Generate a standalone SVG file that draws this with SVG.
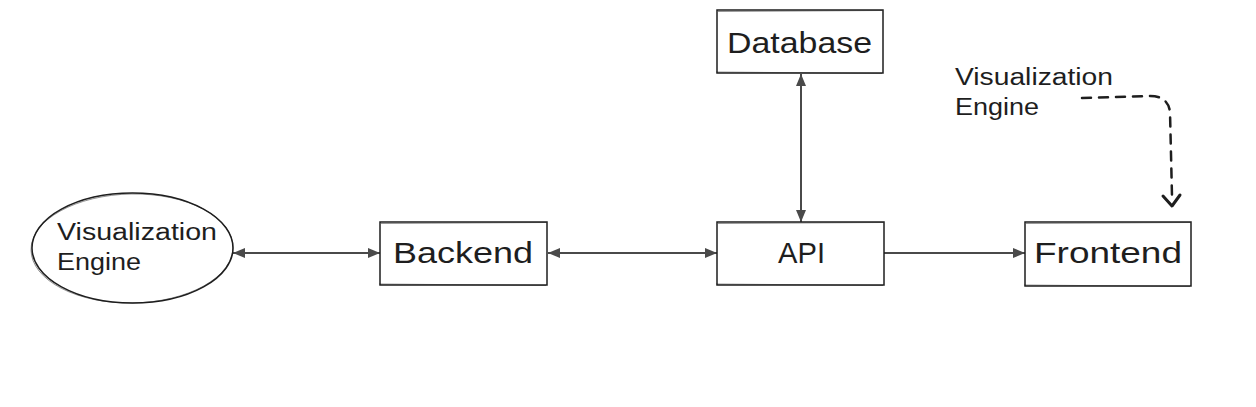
<svg xmlns="http://www.w3.org/2000/svg" width="1256" height="407" viewBox="0 0 1256 407">
<defs>
<style>
.box{fill:#ffffff;stroke:#1e1e1e;stroke-width:1.5}
.sk{fill:none;stroke:#1e1e1e;stroke-width:0.8;opacity:0.6}
.lbl{font-family:"Liberation Sans","DejaVu Sans",sans-serif;font-size:30px;fill:#1e1e1e}
.sm{font-family:"Liberation Sans","DejaVu Sans",sans-serif;font-size:23px;fill:#1e1e1e}
.con{fill:none;stroke:#4a4a4a;stroke-width:2}
.dash{fill:none;stroke:#1e1e1e;stroke-width:2.5;stroke-dasharray:9 8;stroke-linecap:round}
</style>
<marker id="ah" viewBox="0 0 12 10" refX="12" refY="5" markerWidth="12" markerHeight="10" markerUnits="userSpaceOnUse" orient="auto-start-reverse">
<path d="M0,0 L12,5 L0,10 Z" fill="#4a4a4a"/>
</marker>
</defs>
<rect width="1256" height="407" fill="#ffffff"/>
<g id="connectors">
<line class="con" x1="233" y1="253" x2="380" y2="253" marker-start="url(#ah)" marker-end="url(#ah)"/>
<line class="con" x1="548" y1="253" x2="717" y2="253" marker-start="url(#ah)" marker-end="url(#ah)"/>
<line class="con" x1="884" y1="253" x2="1025" y2="253" marker-end="url(#ah)"/>
<line class="con" x1="801" y1="74" x2="801" y2="222" marker-start="url(#ah)" marker-end="url(#ah)"/>
<path class="dash" d="M1082,98 L1150,96 Q1168,96 1170,112 L1172,196"/>
<path d="M1163,196 L1172,206 L1180,195" fill="none" stroke="#1e1e1e" stroke-width="3" stroke-linecap="round" stroke-linejoin="round"/>
</g>
<g id="viz-engine-ellipse">
<ellipse class="box" cx="132.5" cy="248" rx="100.5" ry="55"/>
<ellipse class="sk" cx="132" cy="248.5" rx="101" ry="54.5" transform="rotate(-1 132 248)"/>
<text class="sm" x="57" y="240" textLength="160" lengthAdjust="spacingAndGlyphs">Visualization</text>
<text class="sm" x="57" y="270" textLength="84" lengthAdjust="spacingAndGlyphs">Engine</text>
</g>
<g id="backend">
<rect class="box" x="380" y="222" width="167" height="63"/>
<path class="sk" d="M381,223.5 L546,222.5 M379,284 L546,285.5"/>
<text class="lbl" x="393" y="263" textLength="140" lengthAdjust="spacingAndGlyphs">Backend</text>
</g>
<g id="database">
<rect class="box" x="717" y="10" width="166" height="63"/>
<path class="sk" d="M718,11.5 L882,10.5 M716,72 L882,73.5"/>
<text class="lbl" x="727" y="53" textLength="145" lengthAdjust="spacingAndGlyphs">Database</text>
</g>
<g id="api">
<rect class="box" x="717" y="222" width="167" height="63"/>
<path class="sk" d="M718,223.5 L883,222.5 M716,284 L883,285.5"/>
<text class="lbl" x="778" y="263" textLength="47" lengthAdjust="spacingAndGlyphs">API</text>
</g>
<g id="frontend">
<rect class="box" x="1025" y="222" width="166" height="64"/>
<path class="sk" d="M1026,223.5 L1190,222.5 M1024,285 L1190,286.5"/>
<text class="lbl" x="1034" y="263" textLength="148" lengthAdjust="spacingAndGlyphs">Frontend</text>
</g>
<g id="viz-engine-label">
<text class="sm" x="955" y="85" textLength="158" lengthAdjust="spacingAndGlyphs">Visualization</text>
<text class="sm" x="955" y="115" textLength="84" lengthAdjust="spacingAndGlyphs">Engine</text>
</g>
</svg>
